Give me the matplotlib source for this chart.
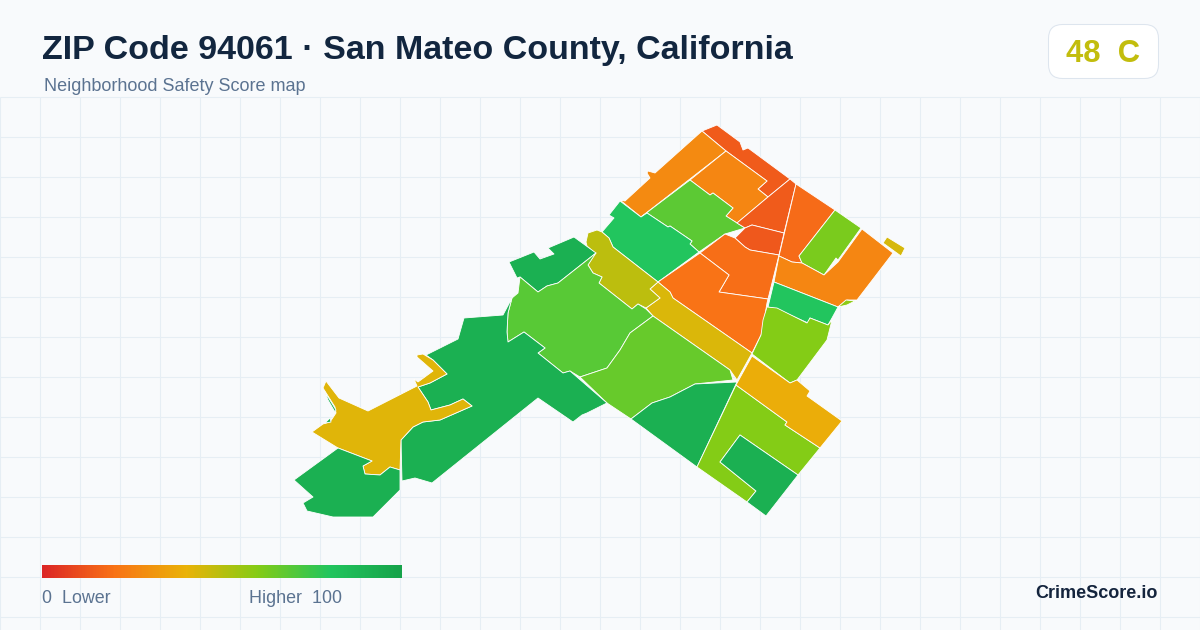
import numpy as np
import matplotlib
matplotlib.use("Agg")
import matplotlib.pyplot as plt
from matplotlib.colors import LinearSegmentedColormap
from matplotlib.patches import FancyBboxPatch, Polygon

plt.rcParams["font.family"] = ["Liberation Sans", "DejaVu Sans"]

# outlines, in image pixels
north_strip = [(702,131),(717,125),(740,142),(743,150),(748,148),(790,179),(768,197),(758,189),(767,181),(726,151)]
north_west = [(702,131),(726,151),(641,217),(620,200),(625,201),(650,178),(647,173),(648,171),(655,173)]
north_mid = [(726,151),(767,181),(758,189),(768,197),(737,223),(726,216),(733,208),(713,193),(710,195),(690,180)]
green_mid = [(690,180),(710,195),(713,193),(733,208),(726,216),(737,223),(745,228),(725,234),(699,252),(690,244),(692,241),(670,226),(668,227),(647,213),(641,217)]
green_west = [(620,201),(641,217),(647,213),(668,227),(670,226),(692,241),(690,244),(699,252),(658,282),(613,247),(609,238),(602,232),(614,218),(609,215)]
red_triangle = [(790,179),(796,184),(784,233),(752,225),(745,228),(737,223),(768,197)]
red_centre = [(752,225),(784,233),(779,255),(750,250),(745,247),(735,238),(745,228)]
orange_inner = [(725,234),(735,238),(745,247),(750,250),(779,255),(768,299),(719,292),(729,275),(700,253)]
orange_large = [(700,253),(729,275),(719,292),(768,299),(767,303),(762,333),(752,353),(673,298),(670,292),(658,282)]
east_red = [(796,184),(835,210),(799,256),(802,263),(792,262),(779,256)]
east_lime = [(835,210),(861,228),(838,260),(836,258),(824,275),(802,263),(799,256)]
east_orange = [(862,229),(893,253),(857,300),(847,300),(838,307),(774,282),(779,256),(792,262),(802,263),(824,275),(838,262)]
east_islet = [(887,237),(905,248),(901,256),(883,243)]
east_sliver = [(838,307),(846,300),(855,301),(847,305)]
east_green = [(774,282),(838,307),(832,318),(828,325),(810,318),(808,323),(777,309),(768,307)]
south_lime = [(767,307),(777,308),(807,323),(810,318),(828,325),(832,320),(827,340),(797,380),(790,383),(752,354),(761,335),(763,320)]
road_yellow = [(658,282),(670,292),(673,298),(752,353),(737,380),(730,370),(653,316),(646,308),(660,298),(650,289)]
road_olive = [(586,242),(588,233),(597,230),(602,232),(609,238),(613,247),(658,282),(650,289),(660,298),(646,308),(638,304),(632,309),(599,283),(602,277),(593,273),(588,265),(595,253),(587,246)]
north_dark = [(509,262),(534,252),(540,259),(554,254),(548,248),(574,237),(596,253),(558,283),(547,286),(538,292),(520,277),(517,278)]
west_green = [(520,277),(538,292),(547,286),(558,283),(596,253),(588,265),(593,273),(602,277),(599,283),(632,309),(638,304),(646,309),(653,316),(630,333),(620,350),(607,368),(580,377),(570,371),(563,373),(538,353),(545,348),(524,332),(508,342),(507,332),(508,313),(512,298),(518,293)]
mid_green = [(580,377),(607,368),(620,350),(630,333),(653,316),(730,370),(733,380),(695,384),(670,397),(652,403),(631,419),(607,403)]
south_dark = [(631,419),(652,403),(670,397),(695,384),(737,382),(697,467)]
south_l = [(736,385),(787,422),(785,425),(820,448),(798,475),(740,435),(720,462),(756,491),(747,502),(697,467)]
south_block = [(740,435),(798,475),(766,516),(747,502),(756,491),(720,462)]
road_orange = [(752,356),(790,383),(797,380),(810,391),(807,396),(842,421),(820,448),(785,425),(787,422),(736,385)]
west_dark = [(426,355),(458,339),(464,318),(503,315),(512,298),(508,313),(507,332),(508,342),(524,332),(545,348),(538,353),(563,373),(570,371),(607,403),(587,413),(582,415),(573,422),(538,398),(432,483),(415,478),(402,481),(401,440),(413,427),(423,422),(440,420),(472,406),(463,399),(450,405),(431,410),(428,402),(418,387),(430,383),(447,374),(433,360)]
west_yellow = [(417,355),(423,354),(433,360),(447,374),(430,383),(418,387),(428,402),(431,410),(450,405),(463,399),(472,406),(440,420),(423,422),(413,427),(401,440),(400,470),(390,467),(380,475),(365,474),(363,466),(372,461),(338,448),(312,432),(323,424),(330,422),(336,413),(335,407),(323,388),(326,381),(339,398),(368,411),(417,386),(414,379),(418,382),(433,371),(417,357)]
sw_dark = [(338,448),(372,461),(363,466),(365,474),(380,475),(390,467),(400,470),(400,490),(373,517),(333,517),(307,511),(303,503),(313,497),(294,480)]
sliver_a = [(325,392),(336,410),(335,412),(328,400)]
sliver_b = [(325,423),(330,418),(331,422)]

tracts = [north_strip, north_west, north_mid, green_mid, green_west, red_triangle, red_centre,
          orange_inner, orange_large, east_red, east_lime, east_orange, east_islet, east_sliver,
          east_green, south_lime, road_yellow, road_olive, north_dark, west_green, mid_green,
          south_dark, south_l, south_block, road_orange, west_dark, west_yellow, sw_dark,
          sliver_a, sliver_b]
scores = [14, 27, 26, 68, 80, 14, 13, 19, 20, 18, 62, 26, 44, 58, 80, 60, 43, 49, 92, 69, 66,
          92, 60, 92, 38, 92, 42, 92, 92, 92]

score_stops = [0, 0.2, 0.4, 0.6, 0.8, 1]
stop_colors = ["#dc2626", "#f97316", "#eab308", "#84cc16", "#22c55e", "#16a34a"]
cmap = LinearSegmentedColormap.from_list("safety", list(zip(score_stops, stop_colors)))

zip_score = 48
zip_grade = "C"

fig = plt.figure(figsize=(12, 6.3), dpi=100, facecolor="#f8fafc")
ax = fig.add_axes([0, 0, 1, 1])
ax.set_xlim(0, 1200)
ax.set_ylim(630, 0)
ax.axis("off")

# grid behind the map
ax.vlines(np.arange(0, 1201, 40), 97, 630, color="#e6eef4", lw=0.75, zorder=1)
ax.hlines(np.arange(97, 630, 40), 0, 1200, color="#e6eef4", lw=0.75, zorder=1)

for outline, score in zip(tracts, scores):
    ax.add_patch(Polygon(outline, closed=True, facecolor=cmap(score / 100), edgecolor="white",
                         lw=0.6, joinstyle="round", zorder=2))

ax.text(42, 59, "ZIP Code 94061 · San Mateo County, California", fontsize=24.5, fontweight="bold",
        color="#12263f", va="baseline", ha="left")
ax.text(44, 91, "Neighborhood Safety Score map", fontsize=12.95, color="#5b7391", va="baseline", ha="left")

ax.add_patch(FancyBboxPatch((1048.5, 24.5), 110, 54, boxstyle="round,pad=0,rounding_size=14",
                            fc="white", ec="#dde5ee", lw=0.75, zorder=3))
ax.text(1103, 62, f"{zip_score}  {zip_grade}", fontsize=22.3, fontweight="bold", color=cmap(zip_score / 100),
        va="baseline", ha="center", zorder=4)

# legend bar
ax.imshow(np.linspace(0, 1, 360).reshape(1, -1), cmap=cmap, extent=(42, 402, 578, 565),
          aspect="auto", zorder=3)
ax.set_xlim(0, 1200)
ax.set_ylim(630, 0)
ax.text(42, 603, "0  Lower", fontsize=12.9, color="#5b7391", va="baseline", ha="left")
ax.text(249, 603, "Higher  100", fontsize=12.9, color="#5b7391", va="baseline", ha="left")
ax.text(1158, 598, "CrimeScore.io", fontsize=13, fontweight="bold", color="#14243d", va="baseline", ha="right")

fig.savefig("out.png", dpi=100, facecolor=fig.get_facecolor())
